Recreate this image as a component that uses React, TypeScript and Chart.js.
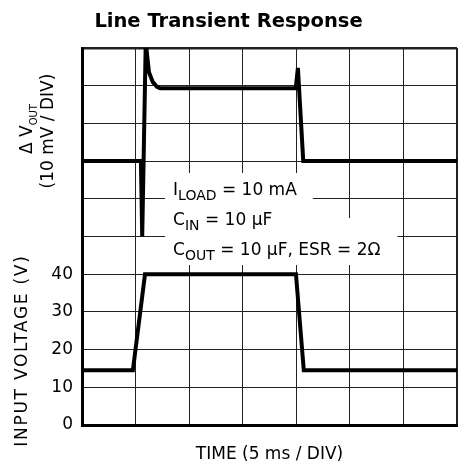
import React, { useEffect, useRef } from 'react';
import { Chart, registerables } from 'chart.js';

Chart.register(...registerables);

const FAMILY = '"DejaVu Sans", "Liberation Sans", sans-serif';

const chartTitle = 'Line Transient Response';
const xAxisTitle = 'TIME (5 ms / DIV)';

// Input voltage trace: time in ms (5 ms / div), volts
const vinTime = [0, 4.75, 5.88, 19.97, 20.7, 35];
const vinVolts = [14.5, 14.5, 40, 40, 14.5, 14.5];

// Output voltage deviation trace: time in ms, mV (10 mV / div)
const dvTime = [0, 5.5, 5.62, 5.95, 6.25, 6.6, 7.0, 7.3, 19.95, 20.15, 20.65, 35];
const dvMilliVolts = [0, 0, -20, 31.5, 23.6, 21.0, 19.7, 19.3, 19.3, 24.7, 0, 0];

// Tick labels shown on the input-voltage axis
const vinTickLabels = [0, 10, 20, 30, 40];

// Annotation text (segments, sub = subscript)
const noteLines = [
  [{ t: 'I' }, { t: 'LOAD', sub: true }, { t: ' = 10 mA' }],
  [{ t: 'C' }, { t: 'IN', sub: true }, { t: ' = 10 \u03bcF' }],
  [{ t: 'C' }, { t: 'OUT', sub: true }, { t: ' = 10 \u03bcF, ESR = 2\u03a9' }],
];
const leftTopLine1 = [{ t: '\u0394 V' }, { t: 'OUT', sub: true }];
const leftTopLine2 = '(10 mV / DIV)';
const leftBottomLabel = 'INPUT VOLTAGE (V)';

const MAIN_FONT = `17px ${FAMILY}`;
const NOTE_SUB_FONT = `14px ${FAMILY}`;
const LABEL_SUB_FONT = `10px ${FAMILY}`;

const noteBoxes = [
  { up: 22, down: 12, right: 16 },
  { up: 22, down: 10, right: 25 },
  { up: 37, down: 10, right: 17 },
];

const notesPlugin = {
  id: 'notes',
  beforeDatasetsDraw(chart: any) {
    const { ctx, scales } = chart;
    const x0 = scales.x.getPixelForValue(8.5);
    const y0 = scales.y.getPixelForValue(61);
    ctx.save();
    ctx.textAlign = 'left';
    ctx.textBaseline = 'alphabetic';
    noteLines.forEach((segs: any[], i: number) => {
      const base = y0 + i * 30;
      let w = 0;
      segs.forEach((s) => {
        ctx.font = s.sub ? NOTE_SUB_FONT : MAIN_FONT;
        w += ctx.measureText(s.t).width;
      });
      const b = noteBoxes[i];
      ctx.fillStyle = '#ffffff';
      ctx.fillRect(x0 - 8, base - b.up, w + 8 + b.right, b.up + b.down);
    });
    noteLines.forEach((segs: any[], i: number) => {
      const base = y0 + i * 30;
      let x = x0;
      ctx.fillStyle = '#000000';
      segs.forEach((s) => {
        ctx.font = s.sub ? NOTE_SUB_FONT : MAIN_FONT;
        ctx.fillText(s.t, x, base + (s.sub ? 5 : 0));
        x += ctx.measureText(s.t).width;
      });
    });
    ctx.restore();
  },
};

function drawRotatedSegs(ctx: any, segs: any[], baseX: number, centerY: number, subFont: string, spacing = 0) {
  ctx.save();
  ctx.translate(baseX, centerY);
  ctx.rotate(-Math.PI / 2);
  ctx.textAlign = 'left';
  ctx.textBaseline = 'alphabetic';
  ctx.fillStyle = '#000000';
  (ctx as any).letterSpacing = `${spacing}px`;
  let w = 0;
  segs.forEach((s) => {
    ctx.font = s.sub ? subFont : MAIN_FONT;
    w += ctx.measureText(s.t).width;
  });
  if (spacing) w -= spacing;
  let x = -w / 2;
  segs.forEach((s) => {
    ctx.font = s.sub ? subFont : MAIN_FONT;
    ctx.fillText(s.t, x, s.sub ? 5 : 0);
    x += ctx.measureText(s.t).width;
  });
  ctx.restore();
}

const leftLabelsPlugin = {
  id: 'leftLabels',
  afterDraw(chart: any) {
    const { ctx, scales } = chart;
    const topCenter = scales.y.getPixelForValue(78.5);
    const bottomCenter = scales.y.getPixelForValue(19.5);
    drawRotatedSegs(ctx, leftTopLine1, 32, topCenter, LABEL_SUB_FONT);
    drawRotatedSegs(ctx, [{ t: leftTopLine2 }], 52.5, topCenter + 2, LABEL_SUB_FONT);
    drawRotatedSegs(ctx, [{ t: leftBottomLabel }], 27, bottomCenter, LABEL_SUB_FONT, 1.75);
  },
};

export default function App() {
  const ref = useRef<HTMLCanvasElement>(null);

  useEffect(() => {
    const canvas = ref.current;
    if (!canvas) return;
    const chart = new Chart(canvas, {
      type: 'line',
      data: {
        datasets: [
          {
            label: 'Input voltage',
            data: vinTime.map((t, i) => ({ x: t, y: vinVolts[i] })),
            yAxisID: 'y',
            borderColor: '#000000',
            backgroundColor: '#000000',
            borderWidth: 4,
            pointRadius: 0,
            tension: 0,
          },
          {
            label: 'Delta Vout',
            data: dvTime.map((t, i) => ({ x: t, y: dvMilliVolts[i] })),
            yAxisID: 'y2',
            borderColor: '#000000',
            backgroundColor: '#000000',
            borderWidth: 4,
            pointRadius: 0,
            tension: 0,
          },
        ],
      },
      options: {
        responsive: false,
        animation: false,
        devicePixelRatio: 1,
        layout: { padding: { left: 0, right: 6, top: 0, bottom: 0 } },
        plugins: {
          legend: { display: false },
          tooltip: { enabled: false },
          title: {
            display: true,
            text: chartTitle,
            color: '#000000',
            font: { family: FAMILY, size: 19.5, weight: 'bold' },
            padding: { top: 10.5, bottom: 14.1 },
          },
        },
        scales: {
          x: {
            type: 'linear',
            min: 0,
            max: 35,
            ticks: { display: false, stepSize: 5 },
            grid: {
              color: '#222222',
              lineWidth: (c: any) => (c.tick && c.tick.value === 35 ? 2 : 1),
              drawTicks: false,
            },
            border: { display: true, color: '#000000', width: 3 },
            title: {
              display: true,
              text: xAxisTitle,
              color: '#000000',
              font: { family: FAMILY, size: 17 },
              padding: { top: 0, bottom: 6.8 },
            },
            afterFit: (s: any) => {
              s.height = 47;
            },
          },
          y: {
            type: 'linear',
            position: 'left',
            min: 0,
            max: 100,
            ticks: {
              stepSize: 10,
              color: '#000000',
              font: { family: FAMILY, size: 17 },
              padding: 9,
              callback: (v: any) => (vinTickLabels.includes(Number(v)) ? String(v) : ''),
            },
            grid: {
              color: '#222222',
              lineWidth: (c: any) => (c.tick && c.tick.value === 100 ? 2.5 : 1),
              drawTicks: false,
            },
            border: { display: true, color: '#000000', width: 3 },
            afterFit: (s: any) => {
              s.width = 82;
            },
          },
          y2: {
            type: 'linear',
            display: false,
            min: -70,
            max: 30,
          },
        },
      } as any,
      plugins: [notesPlugin, leftLabelsPlugin],
    });
    return () => chart.destroy();
  }, []);

  return (
    <div style={{ position: 'absolute', left: 0, top: 0, width: 463, height: 472, background: '#ffffff' }}>
      <canvas ref={ref} width={463} height={472} style={{ display: 'block', width: 463, height: 472 }} />
    </div>
  );
}
